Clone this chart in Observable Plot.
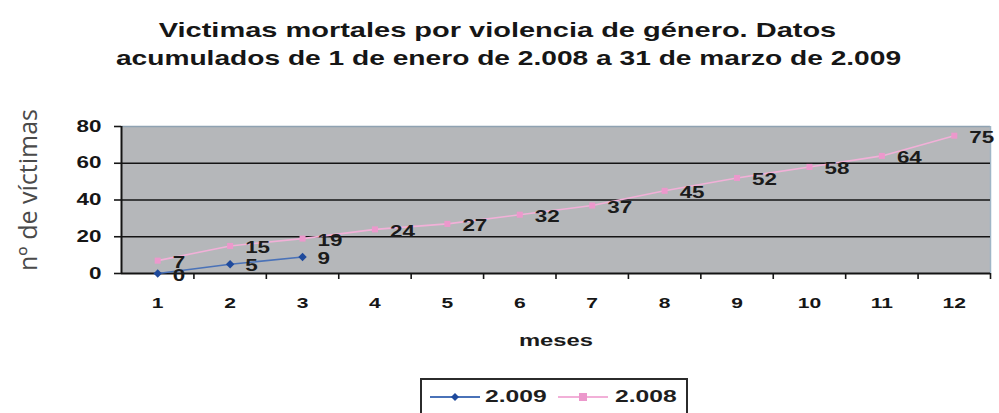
<!DOCTYPE html>
<html>
<head>
<meta charset="utf-8">
<script src="https://cdn.jsdelivr.net/npm/d3@7"></script>
<script src="https://cdn.jsdelivr.net/npm/@observablehq/plot@0.6"></script>
<style>
  html, body { margin: 0; padding: 0; background: #fff; }
  #wrap { position: relative; width: 999px; height: 413px; overflow: hidden; font-family: "Liberation Sans", Arial, sans-serif; }
  .tline { position: absolute; width: 999px; text-align: center; font-weight: bold; font-size: 21px; line-height: 21px; color: #161616; transform-origin: center; white-space: nowrap; }
  #chart { position: absolute; left: 0; top: 85px; }
  #ylab { position: absolute; left: 27px; top: 190px; font-family: "Open Sans", sans-serif; font-size: 25px; line-height: 25px; color: #4a4a4a; white-space: nowrap; transform: translate(-50%, -50%) rotate(-90deg); }
  #legend { position: absolute; left: 420px; top: 378px; width: 264px; height: 40px; border: 2px solid #2b2b2b; background: #fff; }
  .lg { position: absolute; font-weight: bold; font-size: 17px; color: #1e1e1e; transform: scaleX(1.45); transform-origin: left; white-space: nowrap; line-height: 17px; }
  .sw { position: absolute; }
</style>
</head>
<body>
<div id="wrap">
  <div class="tline" id="t1"></div>
  <div class="tline" id="t2"></div>
  <div id="ylab"></div>
  <div id="chart"></div>
  <div id="legend"></div>
</div>
<script>
// ---- data ----
const titleLines = ["Victimas mortales por violencia de género. Datos", "acumulados de 1 de enero de 2.008 a 31 de marzo de 2.009"];
const months = [1, 2, 3, 4, 5, 6, 7, 8, 9, 10, 11, 12];
const values2008 = [7, 15, 19, 24, 27, 32, 37, 45, 52, 58, 64, 75];
const months2009 = [1, 2, 3];
const values2009 = [0, 5, 9];
const yTicks = [0, 20, 40, 60, 80];
const seriesNames = ["2.009", "2.008"];
const xLabel = "meses";
const yLabel = "nº de víctimas";

const c2009 = "#1f4a9c", c2009line = "#4a72b8";
const c2008 = "#ec98cc", c2008line = "#f2b0d8";

// title
const t1 = document.getElementById("t1"), t2 = document.getElementById("t2");
t1.textContent = titleLines[0]; t2.textContent = titleLines[1];
t1.style.top = "19px"; t1.style.left = (497 - 499.5) + "px"; t1.style.transform = "scaleX(1.38)";
t2.style.top = "47px"; t2.style.left = (508 - 499.5) + "px"; t2.style.transform = "scaleX(1.34)";
document.getElementById("ylab").textContent = yLabel;

const d2008 = months.map((m, i) => ({month: m, value: values2008[i]}));
const d2009 = months2009.map((m, i) => ({month: m, value: values2009[i]}));
const halfTicks = months.map(m => m + 0.5);

const chart = Plot.plot({
  width: 999,
  height: 290,
  marginTop: 41,
  marginBottom: 102,
  marginLeft: 121,
  marginRight: 9,
  style: {fontFamily: "'Liberation Sans', Arial, sans-serif", color: "#161616", background: "transparent", overflow: "visible"},
  x: {domain: [0.5, 12.5]},
  y: {domain: [0, 80]},
  marks: [
    Plot.frame({fill: "#b5b7ba", stroke: null}),
    Plot.ruleY([80], {stroke: "#8fa2b2", strokeWidth: 1.5}),
    Plot.ruleX([12.5], {stroke: "#9fb6c6", strokeWidth: 1.5}),
    Plot.ruleY([20, 40, 60], {stroke: "#141414", strokeWidth: 1.6}),
    Plot.axisY(yTicks, {tickSize: 7, tickPadding: 13, fontWeight: "bold", fontSize: 16, label: null, strokeWidth: 1.6}),
    Plot.axisX(halfTicks, {tickSize: 6, tickFormat: () => "", label: null, strokeWidth: 1.6}),
    Plot.axisX(months, {tickSize: 0, tickPadding: 24, fontWeight: "bold", fontSize: 15, label: null}),
    Plot.ruleY([0], {stroke: "#141414", strokeWidth: 2}),
    Plot.ruleX([0.5], {stroke: "#141414", strokeWidth: 2}),
    Plot.line(d2008, {x: "month", y: "value", stroke: c2008line, strokeWidth: 1.6}),
    Plot.dot(d2008, {x: "month", y: "value", symbol: "square", r: 3.4, fill: c2008, stroke: null}),
    Plot.line(d2009, {x: "month", y: "value", stroke: c2009line, strokeWidth: 1.6}),
    Plot.dot(d2009, {x: "month", y: "value", symbol: "diamond2", r: 3.8, fill: c2009, stroke: null}),
    Plot.text(d2008, {x: "month", y: "value", text: d => String(d.value), textAnchor: "start", dx: 15, dy: 2, fontWeight: "bold", fontSize: 16, fill: "#1b1b1b"}),
    Plot.text(d2009, {x: "month", y: "value", text: d => String(d.value), textAnchor: "start", dx: 15, dy: 2, fontWeight: "bold", fontSize: 16, fill: "#1b1b1b"}),
    Plot.text([xLabel], {frameAnchor: "bottom", dy: 72, fontWeight: "bold", fontSize: 17, fill: "#1b1b1b"})
  ]
});
document.getElementById("chart").appendChild(chart);

// stretch bold texts horizontally to match the reference's wide lettering
d3.select(chart).selectAll("text").each(function() {
  const el = this;
  const txt = el.textContent;
  if (!txt) return;
  const len = el.getComputedTextLength();
  if (len > 0) {
    el.setAttribute("textLength", (len * 1.4).toFixed(1));
    el.setAttribute("lengthAdjust", "spacingAndGlyphs");
  }
});

// legend
const legend = document.getElementById("legend");
function swatch(left, lineColor, dotColor, shape) {
  const ns = "http://www.w3.org/2000/svg";
  const s = document.createElementNS(ns, "svg");
  s.setAttribute("width", 50); s.setAttribute("height", 12);
  s.setAttribute("class", "sw");
  s.style.left = left + "px"; s.style.top = "11px";
  const l = document.createElementNS(ns, "line");
  l.setAttribute("x1", 0); l.setAttribute("x2", 50); l.setAttribute("y1", 6); l.setAttribute("y2", 6);
  l.setAttribute("stroke", lineColor); l.setAttribute("stroke-width", 2);
  s.appendChild(l);
  const p = document.createElementNS(ns, "path");
  p.setAttribute("d", shape === "diamond" ? "M25,2L29,6L25,10L21,6Z" : "M21,2H29V10H21Z");
  p.setAttribute("fill", dotColor);
  s.appendChild(p);
  legend.appendChild(s);
}
swatch(8, c2009line, c2009, "diamond");
swatch(136, c2008line, c2008, "square");
const lg1 = document.createElement("div"); lg1.className = "lg"; lg1.textContent = seriesNames[0];
lg1.style.left = "63px"; lg1.style.top = "8px"; legend.appendChild(lg1);
const lg2 = document.createElement("div"); lg2.className = "lg"; lg2.textContent = seriesNames[1];
lg2.style.left = "193px"; lg2.style.top = "8px"; legend.appendChild(lg2);
</script>
</body>
</html>
